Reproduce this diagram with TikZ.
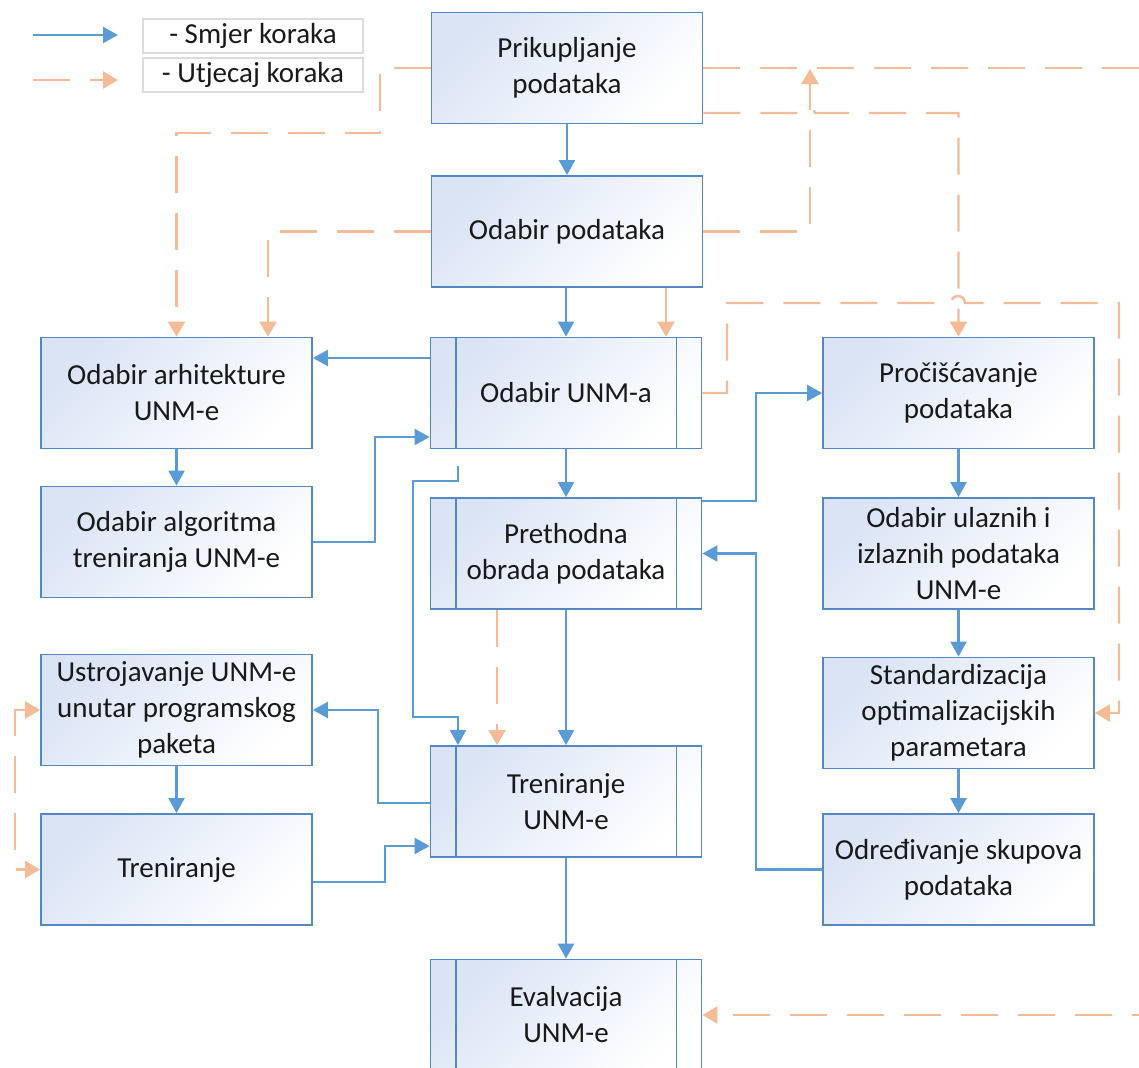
\documentclass[tikz,border=0pt]{standalone}
\usepackage{fontspec}
\setmainfont{Carlito}
\usetikzlibrary{arrows.meta}
\definecolor{bordc}{RGB}{84,136,196}
\definecolor{flowc}{RGB}{91,155,213}
\definecolor{inflc}{RGB}{244,187,150}
\definecolor{fillc}{RGB}{218,228,245}
\definecolor{legc}{RGB}{220,220,220}
\definecolor{txtc}{RGB}{25,25,25}
\tikzset{
  ftip/.tip={Triangle[length=7.5pt,width=8pt]},
  itip/.tip={Triangle[length=7.5pt,width=8.5pt]},
  box/.style={draw=bordc, line width=0.9pt, top color=fillc, bottom color=white,
    shading angle=45, minimum width=135.5pt, minimum height=55.5pt, inner sep=0pt,
    align=center, text=txtc, font=\fontsize{14.5}{18}\selectfont},
  boxline/.style={draw=bordc, line width=0.9pt},
  flow/.style={draw=flowc, line width=1.1pt, -{ftip}},
  infl/.style={draw=inflc, line width=1.2pt, dash pattern=on 18.5pt off 10pt, -{itip}},
  legbox/.style={draw=legc, line width=0.6pt, minimum width=110pt, minimum height=17pt,
    inner sep=0pt, text=txtc, font=\fontsize{14.5}{18}\selectfont},
}
\begin{document}
\begin{tikzpicture}[x=0.5pt,y=-0.5pt]
\path[use as bounding box] (0,0) rectangle (1139,1067);
\clip (0,0) rectangle (1139,1067);
\fill[white] (0,0) rectangle (1139,1067);

% legend
\node[legbox] (lg1) at (253,36) {- Smjer koraka};
\node[legbox] (lg2) at (253,75) {- Utjecaj koraka};
\coordinate (la1) at (33,35); \coordinate (lb1) at (118,35);
\coordinate (la2) at (33,80); \coordinate (lb2) at (118,80);
\draw[flow] (la1) -- (lb1);
\draw[infl] (la2) -- (lb2);

% boxes
\node[box] (pri) at (567,68) {Prikupljanje\\podataka};
\node[box] (odp) at (567,231.5) {Odabir podataka};
\node[box] (unma) at (566,393) {Odabir UNM-a};
\node[box] (pre) at (566,553.5) {Prethodna\\obrada podataka};
\node[box] (tre) at (566,801.5) {Treniranje\\UNM-e};
\node[box] (eva) at (566,1015) {Evalvacija\\UNM-e};
\node[box] (arh) at (176.5,393) {Odabir arhitekture\\UNM-e};
\node[box] (alg) at (176.5,542) {Odabir algoritma\\treniranja UNM-e};
\node[box] (ust) at (176.5,710) {Ustrojavanje UNM-e\\unutar programskog\\paketa};
\node[box] (trn) at (176.5,869.5) {Treniranje};
\node[box] (pro) at (958.5,393) {Pročišćavanje\\podataka};
\node[box] (ula) at (958.5,553.5) {Odabir ulaznih i\\izlaznih podataka\\UNM-e};
\node[box] (sta) at (958.5,713) {Standardizacija\\optimalizacijskih\\parametara};
\node[box] (odr) at (958.5,869.5) {Određivanje skupova\\podataka};

\foreach \n in {unma,pre,tre,eva}{
  \draw[boxline] ([xshift=13pt]\n.north west) -- ([xshift=13pt]\n.south west);
  \draw[boxline] ([xshift=-13pt]\n.north east) -- ([xshift=-13pt]\n.south east);
}

% solid flow connectors
\draw[flow] (pri) -- (odp);
\draw[flow] (odp.south -| unma.north) -- (unma.north);
\draw[flow] (unma.west |- 0,358) -- (arh.east |- 0,358);
\draw[flow] (arh) -- (alg);
\draw[flow] (alg.east) -- (375,542) |- (unma.west |- 0,437);
\draw[flow] (unma) -- (pre);
\coordinate (c7) at (458,466);
\draw[flow] (c7) -- (458,481) -- (413,481) -- (413,717) -- (458,717) -- (tre.north -| 458,0);
\draw[flow] (pre.east |- 0,501) -- (756,501) |- (pro.west);
\draw[flow] (pro) -- (ula);
\draw[flow] (ula) -- (sta);
\draw[flow] (sta) -- (odr);
\draw[flow] (odr.west) -- (756,869.5) |- (pre.east);
\draw[flow] (pre) -- (tre);
\draw[flow] (tre.west |- 0,803) -- (378,803) |- (ust.east);
\draw[flow] (ust) -- (trn);
\draw[flow] (trn.east |- 0,882) -- (385,882) |- (tre.west |- 0,846);
\draw[flow] (tre) -- (eva);

% dashed influence connectors
\draw[infl] (pri.west) -- (380,68) -- (380,133) -- (176.5,133) -- (arh);
\draw[infl] (odp.west) -- (268,231.5) -- (arh.north -| 268,0);
\draw[infl] (pri.east) -- (1175,68) -- (1175,1015) -- (eva.east);
\coordinate (e1) at (810,69);
\draw[infl] (odp.east) -- (810,231.5) -- (e1);
\draw[infl] (pri.east |- 0,113) -- (805,113) arc[start angle=180,end angle=0,radius=2.5pt] -- (958.5,113) -- (pro);
\draw[infl] (odp.south -| 666,0) -- (unma.north -| 666,0);
\draw[infl] (unma.east) -- (727,393) -- (727,303) -- (951,303) arc[start angle=180,end angle=0,radius=3.5pt] -- (1119,303) -- (1119,713) -- (sta.east);
\draw[infl] (pre.south -| 497,0) -- (tre.north -| 497,0);
\draw[infl, {itip}-{itip}] (ust.west) -- (15,710) -- (15,869.5) -- (trn.west);
\end{tikzpicture}
\end{document}
